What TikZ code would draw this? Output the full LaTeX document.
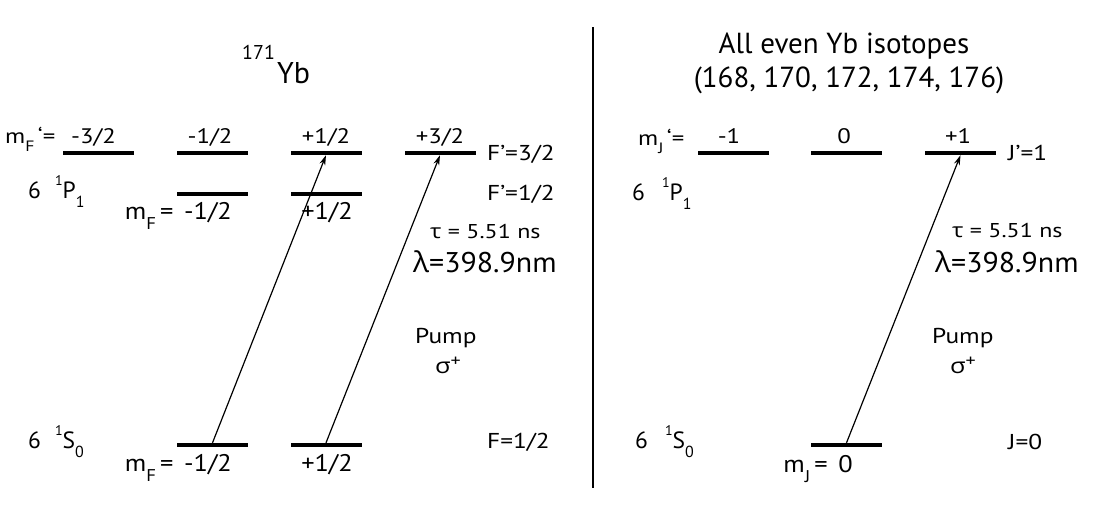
\documentclass[tikz,border=0pt]{standalone}
\usepackage{fontspec}
\setmainfont{PT Sans}
\newfontfamily\sA{PT Sans}[FakeStretch=1.18]
\newfontfamily\sB{PT Sans}[FakeStretch=1.2]
\newfontfamily\sC{PT Sans}[FakeStretch=1.1]
\newfontfamily\sL{PT Sans}[FakeStretch=1.05]
\newfontfamily\gr{Open Sans}[FakeStretch=1.05]
\newfontfamily\grA{Open Sans}[FakeStretch=1.18]
\newfontfamily\grB{Open Sans}[FakeStretch=1.2]
\usetikzlibrary{arrows.meta}
\newcommand\lo[2]{\raisebox{-0.42em}{\fontsize{#1}{#1}\selectfont #2}}
\newcommand\hi[2]{\raisebox{0.55em}{\fontsize{#1}{#1}\selectfont #2}}
\newcommand\pls{\raisebox{0.3em}{\fontsize{17}{17}\selectfont +}}
\tikzset{
  lvl/.style={fill=black, draw=none, minimum width=71pt, minimum height=4pt, inner sep=0pt},
  toprow/.style={font=\sA\fontsize{21}{21}\selectfont, inner sep=0pt},
  mid/.style={font=\sA\fontsize{21.5}{22}\selectfont, inner sep=0pt},
  tauS/.style={font=\sB\fontsize{20}{20}\selectfont, inner sep=0pt},
  big/.style={font=\sC\fontsize{24}{24}\selectfont, inner sep=0pt},
  term/.style={font=\fontsize{23.5}{24}\selectfont, inner sep=0pt},
  lam/.style={font=\sL\fontsize{28.5}{29}\selectfont, inner sep=0pt},
  ttl/.style={font=\fontsize{29}{29}\selectfont, inner sep=0pt},
  pump/.style={line width=1.2pt, -{Stealth[length=10pt,width=6pt]}},
  divider/.style={line width=1.5pt}
}
\begin{document}
\begin{tikzpicture}[x=1pt,y=-1pt]
\useasboundingbox (0,0) rectangle (1100,517);
% ---------- left: 171Yb ----------
\node[inner sep=0pt, anchor=base west, font=\fontsize{20}{20}\selectfont] (iso) at (242,59) {171};
\node[inner sep=0pt, anchor=base west, font=\fontsize{30}{30}\selectfont] (yb) at (277,83) {Yb};
% levels
\node[lvl] (u1) at (98.5,153) {};
\node[lvl] (u2) at (212.5,153) {};
\node[lvl] (u3) at (326,153) {};
\node[lvl] (u4) at (440,153) {};
\node[lvl] (v2) at (212.5,194) {};
\node[lvl] (v3) at (326,194) {};
\node[lvl] (g1) at (212.5,445) {};
\node[lvl] (g2) at (326,445) {};
% labels
\node[toprow, anchor=base west] (mfp) at (5,143) {m\lo{15}{F}\,‘=};
\node[toprow, anchor=base] (m32) at (93.5,143) {-3/2};
\node[toprow, anchor=base] (m12) at (210,143) {-1/2};
\node[toprow, anchor=base] (p12) at (326,143) {+1/2};
\node[toprow, anchor=base] (p32) at (440,143) {+3/2};
\node[mid, anchor=base west] (Fp32) at (487,160) {F’=3/2};
\node[mid, anchor=base west] (Fp12) at (487,200) {F’=1/2};
\node[term, anchor=base west] (P1a) at (28,198) {6\hspace{14pt}\hi{14}{1}P\lo{16}{1}};
\node[big, anchor=base east] (mf2) at (232,219) {m\lo{17}{F}\,=\hspace{0.45em}-1/2};
\node[big, anchor=base] (pf2) at (327,219) {+1/2};
\node[tauS, anchor=base west] (tauA) at (430,238) {{\grB τ} = 5.51 ns};
\node[lam, anchor=base west] (lamA) at (413,272) {{\gr λ}=398.9nm};
\node[mid, anchor=base west] (pumpA) at (415,343) {Pump};
\node[mid, anchor=base] (sigA) at (448,373) {{\grA σ}\pls};
\node[term, anchor=base west] (S0a) at (28,448) {6\hspace{14pt}\hi{14}{1}S\lo{16}{0}};
\node[big, anchor=base east] (mfg) at (232,471) {m\lo{17}{F}\,=\hspace{0.45em}-1/2};
\node[big, anchor=base] (pfg) at (327,471) {+1/2};
\node[mid, anchor=base west] (F12) at (487,448) {F=1/2};
\draw[pump] (g1.north) -- (u3.south);
\draw[pump] (g2.north) -- (u4.south);
% ---------- divider ----------
\coordinate (d1) at (593,27);
\coordinate (d2) at (593,488);
\draw[divider] (d1) -- (d2);
% ---------- right: even isotopes ----------
\node[ttl, anchor=base] (t1) at (844,53) {All even Yb isotopes};
\node[ttl, anchor=base] (t2) at (849,87) {(168, 170, 172, 174, 176)};
\node[lvl] (r1) at (733,153) {};
\node[lvl] (r2) at (846.5,153) {};
\node[lvl] (r3) at (960.5,153) {};
\node[lvl] (rg) at (846.5,445) {};
\node[toprow, anchor=base west] (mjp) at (638,145) {m\lo{15}{J}\,‘=};
\node[toprow, anchor=base] (jm1) at (729,143) {-1};
\node[toprow, anchor=base] (j0) at (844,143) {0};
\node[toprow, anchor=base] (jp1) at (958,143) {+1};
\node[mid, anchor=base west] (Jp1) at (1008,160) {J’=1};
\node[term, anchor=base west] (P1b) at (632,200) {6\hspace{17pt}\hi{14}{1}P\lo{16}{1}};
\node[tauS, anchor=base west] (tauB) at (952,237) {{\grB τ} = 5.51 ns};
\node[lam, anchor=base west] (lamB) at (935,272) {{\gr λ}=398.9nm};
\node[mid, anchor=base west] (pumpB) at (932,343) {Pump};
\node[mid, anchor=base] (sigB) at (963,373) {{\grA σ}\pls};
\node[term, anchor=base west] (S0b) at (635,448) {6\hspace{17pt}\hi{14}{1}S\lo{16}{0}};
\node[big, anchor=base east] (mjg) at (853,472) {m\lo{17}{J}\,=\hspace{0.45em}0};
\node[mid, anchor=base west] (J0) at (1008,449) {J=0};
\draw[pump] (rg.north) -- (r3.south);
\end{tikzpicture}
\end{document}
